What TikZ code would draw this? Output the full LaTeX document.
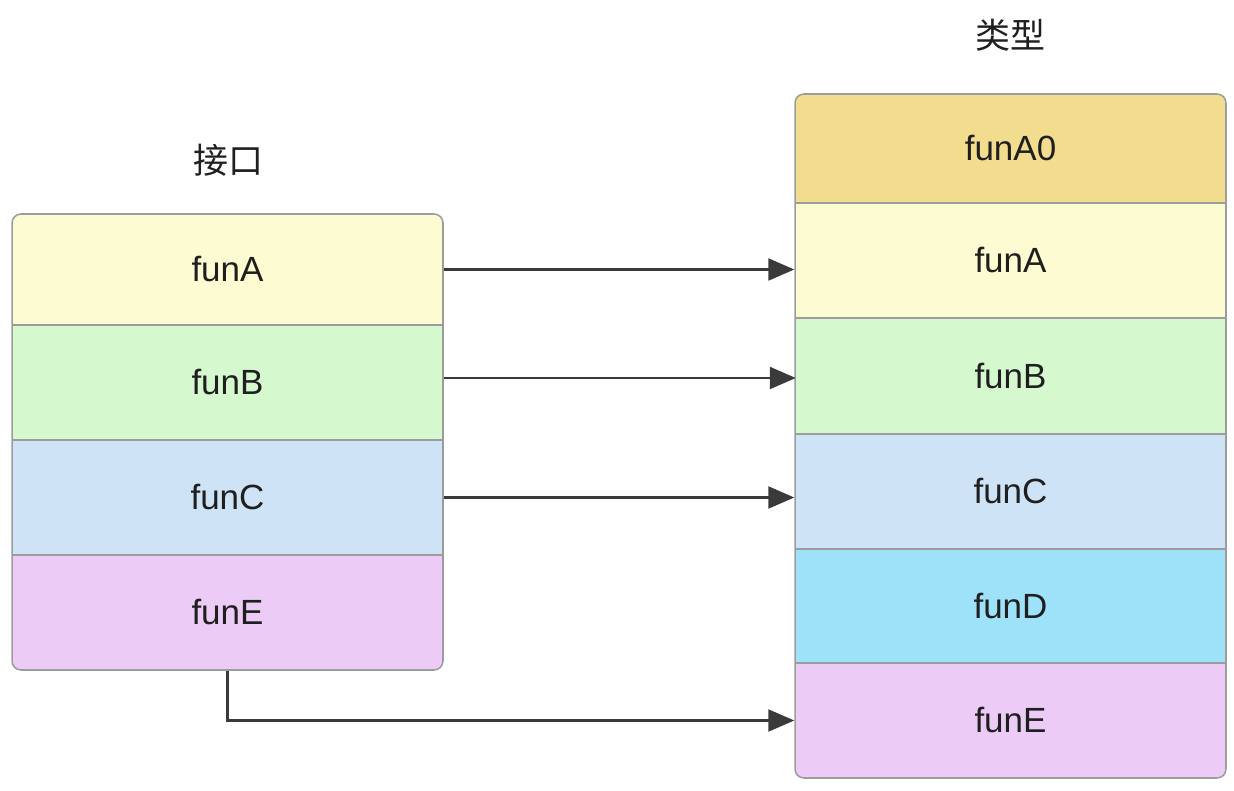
\documentclass[tikz,border=0pt]{standalone}
\usepackage{fontspec}
\setmainfont{Liberation Sans}
\newfontfamily\cjk{Noto Sans CJK SC}
\usetikzlibrary{arrows.meta}
\definecolor{cA0}{HTML}{F2DD8E}
\definecolor{cA}{HTML}{FDFBD2}
\definecolor{cB}{HTML}{D6F8CF}
\definecolor{cC}{HTML}{CFE3F7}
\definecolor{cD}{HTML}{9EE2F9}
\definecolor{cE}{HTML}{ECCCF7}
\definecolor{bord}{HTML}{9C9C9C}
\definecolor{arr}{HTML}{3A3A3A}
\tikzset{
  row/.style={draw=bord, line width=1.5pt, minimum width=431pt, inner sep=0pt, font=\fontsize{35}{37}\selectfont, text=black!88},
  conn/.style={draw=arr, line width=2.3pt, -{Triangle[length=26pt,width=22pt]}},
  title/.style={font=\cjk\fontsize{35}{37}\selectfont, text=black!88},
}
\begin{document}
\begin{tikzpicture}[x=1pt,y=-1pt]
\useasboundingbox (0,0) rectangle (1234,791);
% left box
\begin{scope}
\clip[rounded corners=9pt] (12,214) rectangle (443,670);
\node[row, fill=cA, minimum height=111pt] (lA) at (227.5,269.5) {funA};
\node[row, fill=cB, minimum height=115pt] (lB) at (227.5,382.5) {funB};
\node[row, fill=cC, minimum height=115pt] (lC) at (227.5,497.5) {funC};
\node[row, fill=cE, minimum height=115pt] (lE) at (227.5,612.5) {funE};
\end{scope}
\draw[bord, line width=1.5pt, rounded corners=9pt] (12,214) rectangle (443,670);
% right box
\begin{scope}
\clip[rounded corners=9pt] (795,94) rectangle (1226,778);
\node[row, fill=cA0, minimum height=109pt] (rA0) at (1010.5,148.5) {funA0};
\node[row, fill=cA, minimum height=115pt] (rA) at (1010.5,260.5) {\raisebox{-5pt}{funA}};
\node[row, fill=cB, minimum height=116pt] (rB) at (1010.5,376) {funB};
\node[row, fill=cC, minimum height=115pt] (rC) at (1010.5,491.5) {funC};
\node[row, fill=cD, minimum height=114pt] (rD) at (1010.5,606) {funD};
\node[row, fill=cE, minimum height=115pt] (rE) at (1010.5,720.5) {funE};
\end{scope}
\draw[bord, line width=1.5pt, rounded corners=9pt] (795,94) rectangle (1226,778);
% titles
\node[title] (tl) at (228,160) {接口};
\node[title] (tr) at (1010,35) {类型};
% connectors
\draw[conn] (lA.east) -- (lA.east -| rA.west);
\draw[conn] (lB.east) ++(0,-4.5) -- ++(352,0);
\draw[conn] (lC.east) -- (lC.east -| rC.west);
\coordinate (bend) at (lE.south |- rE.west);
\draw[conn] (lE.south) -- (bend) -- (rE.west);
\end{tikzpicture}
\end{document}
